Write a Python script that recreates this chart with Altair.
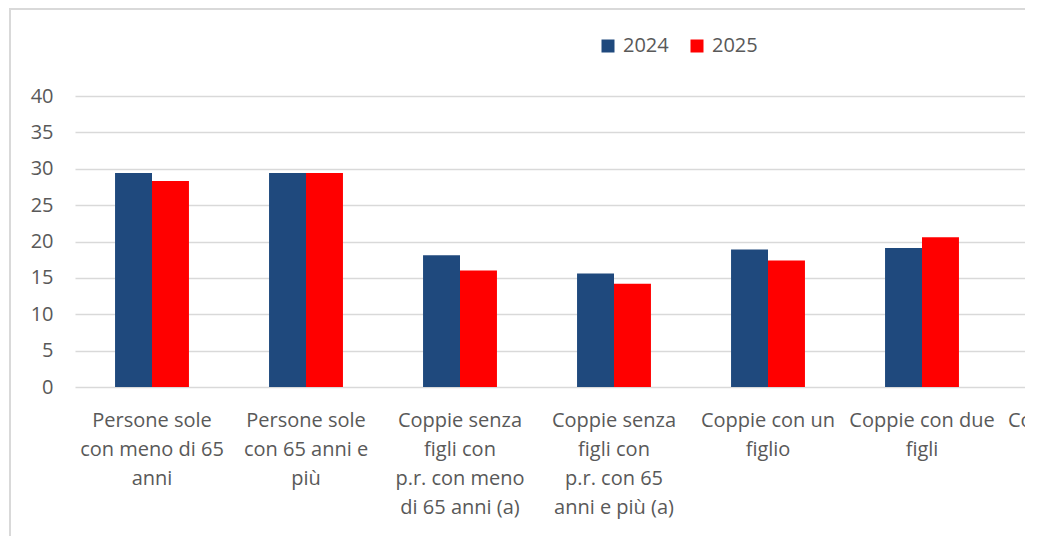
import altair as alt
import pandas as pd

categories = [
    "Persone sole|con meno di 65|anni",
    "Persone sole|con 65 anni e|più",
    "Coppie senza|figli con|p.r. con meno|di 65 anni (a)",
    "Coppie senza|figli con|p.r. con 65|anni e più (a)",
    "Coppie con un|figlio",
    "Coppie con due|figli",
]
# next category, cut off at the right edge of the picture (no bars visible)
cut_category = "Coppie con tre|o più figli"
years = ["2024", "2025"]
values_2024 = [29.4, 29.4, 18.1, 15.6, 18.9, 19.1]
values_2025 = [28.3, 29.4, 16.0, 14.2, 17.4, 20.6]
y_ticks = [0, 5, 10, 15, 20, 25, 30, 35, 40]
colors = ["#1F497D", "#FF0000"]

rows = []
for c, a, b in zip(categories, values_2024, values_2025):
    rows.append({"cat": c, "year": years[0], "value": a})
    rows.append({"cat": c, "year": years[1], "value": b})
df = pd.DataFrame(rows)

FONT = "Open Sans"
TXT = "#595959"
GRID = "#D9D9D9"
W, H = 950, 291
STEP = 154
domain = categories + [cut_category]

bars = alt.Chart(df).mark_bar().encode(
    x=alt.X(
        "cat:N",
        sort=domain,
        scale=alt.Scale(domain=domain, range=[0, STEP * len(domain)],
                        paddingInner=0.52, paddingOuter=0.26),
        axis=alt.Axis(
            title=None, labelAngle=0, domain=False, ticks=False,
            labelExpr="split(datum.label, '|')",
            labelFont=FONT, labelFontSize=20, labelColor=TXT,
            labelPadding=23, labelLineHeight=29, labelLimit=0,
            labelOverlap=False, labelBound=False, labelFlush=False,
        ),
    ),
    xOffset=alt.XOffset("year:N", scale=alt.Scale(paddingInner=0, paddingOuter=0)),
    y=alt.Y(
        "value:Q",
        scale=alt.Scale(domain=[0, 40], nice=False),
        axis=alt.Axis(
            title=None, values=y_ticks, domain=False, ticks=False,
            labelFont=FONT, labelFontSize=20, labelColor=TXT, labelPadding=22,
            grid=True, gridColor=GRID, gridWidth=1.5,
        ),
    ),
    color=alt.Color(
        "year:N",
        scale=alt.Scale(domain=years, range=colors),
        legend=alt.Legend(
            title=None, orient="none", direction="horizontal",
            legendX=523, legendY=-60, symbolType="square", symbolSize=169,
            symbolStrokeWidth=0, labelFont=FONT, labelFontSize=20,
            labelColor=TXT, labelOffset=5, columnPadding=18, padding=0,
        ),
    ),
)

frame_df = pd.DataFrame({"k": [0]})
frame_v = alt.Chart(frame_df).mark_rule(color=GRID, strokeWidth=2).encode(
    x=alt.value(-65), y=alt.value(-88), y2=alt.value(H + 149)
)
frame_h = alt.Chart(frame_df).mark_rule(color=GRID, strokeWidth=2).encode(
    x=alt.value(-66), x2=alt.value(W + 10), y=alt.value(-87)
)

chart = alt.layer(frame_v, frame_h, bars).properties(
    width=W, height=H,
    padding={"left": 67, "top": 88, "right": 0, "bottom": 149},
    autosize=alt.AutoSizeParams(type="none"),
    background="white",
).configure_view(stroke=None)

chart.save("out.html", embed_options={"renderer": "svg", "actions": False})
